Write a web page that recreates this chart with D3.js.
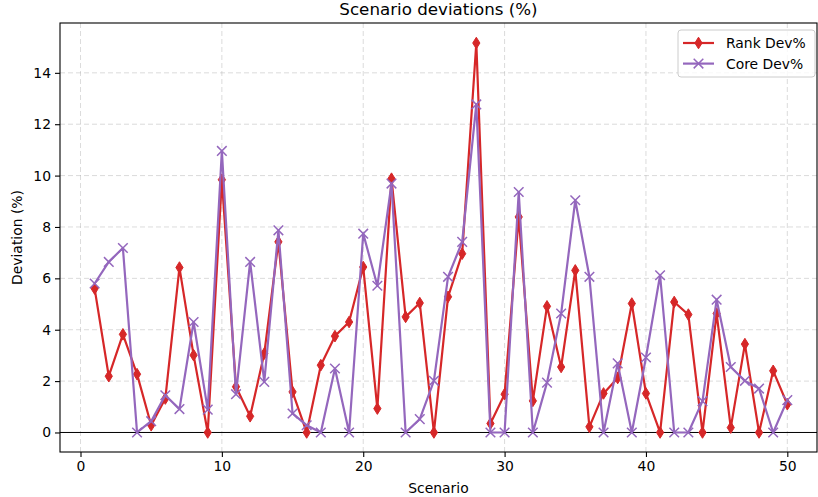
<!DOCTYPE html>
<html>
<head>
<meta charset="utf-8">
<script src="https://cdn.jsdelivr.net/npm/d3@7"></script>
<style>
  body { margin: 0; background: #fff; }
  text { font-family: "DejaVu Sans", sans-serif; fill: #000; }
</style>
</head>
<body>
<div id="content"></div>
<script>
// values
const scenarios = d3.range(1, 51);
const rankDev = [
    5.6, 2.19, 3.82, 2.27, 0.28, 1.32, 6.42, 3.01, 0.0, 9.84,
    1.78, 0.63, 3.07, 7.42, 1.58, 0.0, 2.62, 3.75, 4.3, 6.44,
    0.93, 9.88, 4.5, 5.04, 0.0, 5.28, 6.96, 15.16, 0.35, 1.49,
    8.39, 1.23, 4.91, 2.55, 6.31, 0.22, 1.52, 2.12, 5.02, 1.52,
    0.0, 5.08, 4.59, 0.0, 4.63, 0.19, 3.44, 0.0, 2.4, 1.1
];
const coreDev = [
    5.8, 6.64, 7.18, 0.0, 0.44, 1.45, 0.91, 4.3, 0.89, 10.96,
    1.49, 6.64, 1.97, 7.87, 0.74, 0.28, 0.0, 2.49, 0.0, 7.74,
    5.71, 9.69, 0.0, 0.52, 2.01, 6.06, 7.42, 12.77, 0.0, 0.0,
    9.36, 0.0, 1.94, 4.63, 9.04, 6.06, 0.0, 2.69, 0.0, 2.92,
    6.12, 0.0, 0.0, 1.22, 5.17, 2.55, 2.01, 1.71, 0.0, 1.26
];
const xTicks = [0, 10, 20, 30, 40, 50];
const yTicks = [0, 2, 4, 6, 8, 10, 12, 14];

const series = [
    { name: 'Rank Dev%', values: rankDev, color: '#d62728', marker: 'diamond' },
    { name: 'Core Dev%', values: coreDev, color: '#9467bd', marker: 'x' },
];

const width = 818;
const height = 497;
const margin = { top: 23, right: 1, bottom: 45, left: 60 };

const svg = d3.select('#content').append('svg')
    .attr('width', width)
    .attr('height', height);

const x = d3.scaleLinear().domain([-1.45, 52.1]).range([margin.left, width - margin.right]);
const y = d3.scaleLinear().domain([-0.76, 15.94]).range([height - margin.bottom, margin.top]);

// grid
const grid = svg.append('g').attr('class', 'grid');
grid.selectAll('.gx').data(xTicks).enter().append('line')
    .attr('x1', d => x(d)).attr('x2', d => x(d))
    .attr('y1', margin.top).attr('y2', height - margin.bottom)
    .style('stroke', '#b0b0b0').style('stroke-opacity', 0.45)
    .style('stroke-width', 1).style('stroke-dasharray', '5,3');
grid.selectAll('.gy').data(yTicks).enter().append('line')
    .attr('x1', margin.left).attr('x2', width - margin.right)
    .attr('y1', d => y(d)).attr('y2', d => y(d))
    .style('stroke', '#b0b0b0').style('stroke-opacity', 0.45)
    .style('stroke-width', 1).style('stroke-dasharray', '5,3');

// zero line
svg.append('line')
    .attr('x1', margin.left).attr('x2', width - margin.right)
    .attr('y1', y(0)).attr('y2', y(0))
    .style('stroke', '#000').style('stroke-width', 1);

// series
const line = d3.line().x((d, i) => x(scenarios[i])).y(d => y(d));
const diamond = 'M0,-5.8 L3.6,0 L0,5.8 L-3.6,0 Z';
const cross = 'M-4.8,-4.8 L4.8,4.8 M-4.8,4.8 L4.8,-4.8';

function drawMarker(sel, s) {
    if (s.marker === 'diamond') {
        sel.append('path').attr('d', diamond)
            .style('fill', s.color).style('stroke', s.color).style('stroke-width', 1);
    } else {
        sel.append('path').attr('d', cross)
            .style('fill', 'none').style('stroke', s.color).style('stroke-width', 1.5);
    }
}

series.forEach(s => {
    const g = svg.append('g').attr('class', 'series');
    g.append('path')
        .attr('d', line(s.values))
        .style('fill', 'none')
        .style('stroke', s.color)
        .style('stroke-width', 2.2)
        .style('stroke-linejoin', 'round');
    g.selectAll('.m').data(s.values).enter().append('g')
        .attr('transform', (d, i) => `translate(${x(scenarios[i])},${y(d)})`)
        .each(function () { drawMarker(d3.select(this), s); });
});

// axes
const xAxis = svg.append('g')
    .attr('transform', `translate(0,${height - margin.bottom})`)
    .call(d3.axisBottom(x).tickValues(xTicks).tickSize(5).tickPadding(4));
const yAxis = svg.append('g')
    .attr('transform', `translate(${margin.left},0)`)
    .call(d3.axisLeft(y).tickValues(yTicks).tickSize(5).tickPadding(4));
[xAxis, yAxis].forEach(a => {
    a.selectAll('text').style('font-size', '13.9px').style('font-family', '"DejaVu Sans", sans-serif');
    a.selectAll('line').style('stroke', '#000').style('stroke-width', 1.1);
    a.select('.domain').remove();
});

// frame
svg.append('rect')
    .attr('x', margin.left).attr('y', margin.top)
    .attr('width', width - margin.right - margin.left)
    .attr('height', height - margin.bottom - margin.top)
    .style('fill', 'none').style('stroke', '#000').style('stroke-width', 1.1);

// labels
svg.append('text')
    .attr('x', (margin.left + width - margin.right) / 2).attr('y', 15)
    .attr('text-anchor', 'middle')
    .style('font-size', '16.7px')
    .text('Scenario deviations (%)');
svg.append('text')
    .attr('x', (margin.left + width - margin.right) / 2).attr('y', 493)
    .attr('text-anchor', 'middle')
    .style('font-size', '13.9px')
    .text('Scenario');
svg.append('text')
    .attr('transform', `translate(22,${(margin.top + height - margin.bottom) / 2}) rotate(-90)`)
    .attr('text-anchor', 'middle')
    .style('font-size', '13.9px')
    .text('Deviation (%)');

// legend
const legend = svg.append('g').attr('transform', 'translate(678,30)');
legend.append('rect')
    .attr('width', 137).attr('height', 47).attr('rx', 3)
    .style('fill', '#fff').style('fill-opacity', 0.8)
    .style('stroke', '#ccc').style('stroke-width', 1);
series.forEach((s, i) => {
    const row = legend.append('g').attr('transform', `translate(0,${13 + i * 20.6})`);
    row.append('line').attr('x1', 5).attr('x2', 36)
        .style('stroke', s.color).style('stroke-width', 2.2);
    drawMarker(row.append('g').attr('transform', 'translate(20.5,0)'), s);
    row.append('text').attr('x', 48).attr('y', 5)
        .style('font-size', '13.9px')
        .text(s.name);
});
</script>
</body>
</html>
